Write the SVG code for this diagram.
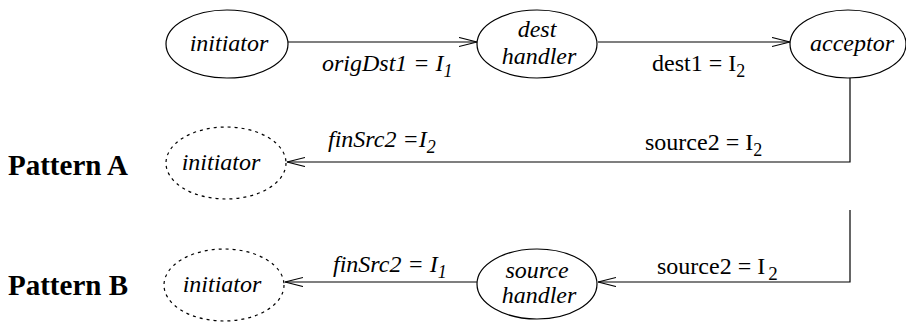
<svg xmlns="http://www.w3.org/2000/svg" width="906" height="324" viewBox="0 0 906 324">
<style>
  .n { fill: none; stroke: #000; stroke-width: 1.2; }
  .d { fill: none; stroke: #000; stroke-width: 1.2; stroke-dasharray: 3 4; }
  .t { font-family: "Liberation Serif", serif; font-size: 24px; fill: #000; }
  .i { font-style: italic; }
  .b { font-weight: bold; font-size: 29px; }
  .c { fill: none; stroke: #000; stroke-width: 1.2; }
</style>
<defs>
  <marker id="arr" markerUnits="userSpaceOnUse" markerWidth="22" markerHeight="12" refX="18" refY="5" orient="auto">
    <path d="M0,0.5 L18,5 L0,9.5" fill="none" stroke="#000" stroke-width="1.2"/>
  </marker>
</defs>
<g id="labels">
  <text class="t b" x="8" y="175">Pattern A</text>
  <text class="t b" x="8" y="295">Pattern B</text>
</g>
<g id="initiator">
  <ellipse class="n" cx="227" cy="44" rx="61" ry="34"/>
  <text class="t i" x="229" y="51" text-anchor="middle">initiator</text>
</g>
<g id="dest-handler">
  <ellipse class="n" cx="537" cy="44" rx="60" ry="34"/>
  <text class="t i" x="537" y="37" text-anchor="middle">dest</text>
  <text class="t i" x="539" y="64" text-anchor="middle">handler</text>
</g>
<g id="acceptor">
  <ellipse class="n" cx="848" cy="44" rx="58" ry="34"/>
  <text class="t i" x="852" y="51" text-anchor="middle">acceptor</text>
</g>
<g id="initiator-a">
  <ellipse class="d" cx="226" cy="163" rx="60" ry="36"/>
  <text class="t i" x="221" y="170" text-anchor="middle">initiator</text>
</g>
<g id="source-handler">
  <ellipse class="n" cx="537" cy="284" rx="60" ry="35"/>
  <text class="t i" x="537" y="278" text-anchor="middle">source</text>
  <text class="t i" x="539" y="303" text-anchor="middle">handler</text>
</g>
<g id="initiator-b">
  <ellipse class="d" cx="224" cy="285" rx="60" ry="36"/>
  <text class="t i" x="222" y="292" text-anchor="middle">initiator</text>
</g>
<g id="connectors">
  <line class="c" x1="288" y1="42" x2="477" y2="42" marker-end="url(#arr)"/>
  <text class="t i" x="322" y="71">origDst1 = I<tspan dy="6" font-size="18">1</tspan></text>
  <line class="c" x1="598" y1="42" x2="790" y2="42" marker-end="url(#arr)"/>
  <text class="t" x="652" y="71">dest1 = I<tspan dy="6" font-size="18">2</tspan></text>
  <polyline class="c" points="850,78 850,162 287,162" marker-end="url(#arr)"/>
  <text class="t i" x="328" y="147">finSrc2 =I<tspan dy="6" font-size="18">2</tspan></text>
  <text class="t" x="645" y="150">source2 = I<tspan dy="6" font-size="18">2</tspan></text>
  <polyline class="c" points="850,210 850,282 598,282" marker-end="url(#arr)"/>
  <text class="t" x="657" y="274" font-size="25">source2 = I<tspan dx="3" dy="6" font-size="19">2</tspan></text>
  <line class="c" x1="477" y1="282" x2="285" y2="282" marker-end="url(#arr)"/>
  <text class="t i" x="333" y="272">finSrc2 = I<tspan dy="6" font-size="18">1</tspan></text>
</g>
</svg>
